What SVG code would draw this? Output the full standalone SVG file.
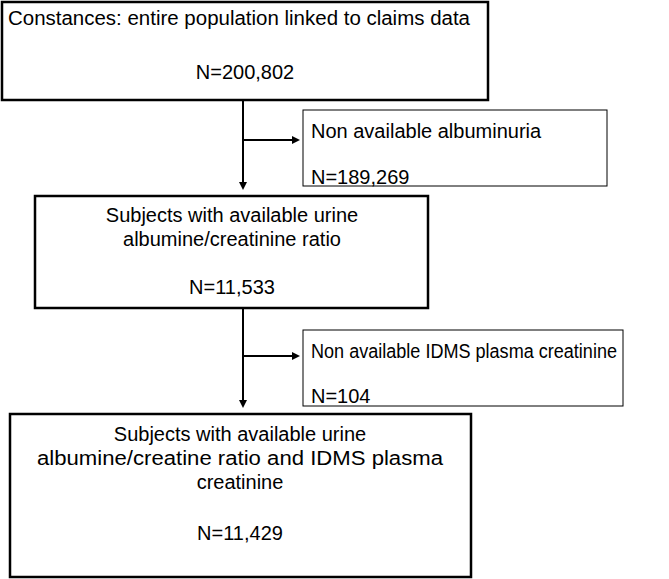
<svg xmlns="http://www.w3.org/2000/svg" width="669" height="579" viewBox="0 0 669 579">
<style>
text{font-family:"Liberation Sans",Arial,sans-serif;font-size:20px;fill:#000}
.thick{fill:#fff;stroke:#000;stroke-width:2.5}
.thin{fill:#fff;stroke:#000;stroke-width:1}
.c{text-anchor:middle}
.ln{stroke:#000;stroke-width:2;fill:none}
</style>
<defs><marker id="a" markerWidth="8" markerHeight="8" refX="6" refY="4" orient="auto" markerUnits="userSpaceOnUse"><path d="M0,0L8,4L0,8z" fill="#000"/></marker></defs>
<g id="n1"><rect class="thick" x="2" y="2" width="486" height="98"/><text x="8" y="25" textLength="462" lengthAdjust="spacingAndGlyphs">Constances: entire population linked to claims data</text><text class="c" x="245" y="79">N=200,802</text></g>
<g id="n2"><rect class="thin" x="303" y="110" width="304" height="76"/><text x="311" y="138">Non available albuminuria</text><text x="311" y="184">N=189,269</text></g>
<g id="n3"><rect class="thick" x="35" y="196" width="393" height="112"/><text class="c" x="232" y="222">Subjects with available urine</text><text class="c" x="232" y="246">albumine/creatinine ratio</text><text class="c" x="232" y="294">N=11,533</text></g>
<g id="n4"><rect class="thin" x="303" y="330" width="320" height="76"/><text x="311" y="358" textLength="306" lengthAdjust="spacingAndGlyphs">Non available IDMS plasma creatinine</text><text x="311" y="403">N=104</text></g>
<g id="n5"><rect class="thick" x="10" y="414" width="461" height="163"/><text class="c" x="240" y="441">Subjects with available urine</text><text class="c" x="240" y="465" textLength="406" lengthAdjust="spacingAndGlyphs">albumine/creatine ratio and IDMS plasma</text><text class="c" x="240" y="489">creatinine</text><text class="c" x="240" y="540">N=11,429</text></g>
<g id="edges">
<line class="ln" x1="243" y1="100" x2="243" y2="188" marker-end="url(#a)"/>
<line class="ln" x1="243" y1="140" x2="298" y2="140" marker-end="url(#a)"/>
<line class="ln" x1="243" y1="308" x2="243" y2="406" marker-end="url(#a)"/>
<line class="ln" x1="243" y1="356" x2="298" y2="356" marker-end="url(#a)"/>
</g>
</svg>
